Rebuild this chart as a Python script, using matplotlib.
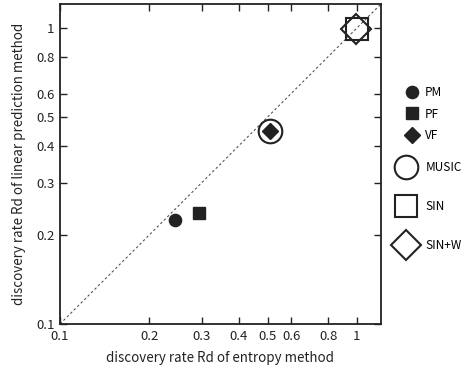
"""
Discovery rate comparison: entropy method vs linear prediction method.
"""

from matplotlib import pyplot as plt
from matplotlib.lines import Line2D
from matplotlib.ticker import FixedLocator, FixedFormatter, NullLocator

plt.rcParams['font.family'] = ['Noto Sans CJK JP', 'DejaVu Sans']

# values
methods     = ['PM', 'PF', 'VF', 'MUSIC', 'SIN', 'SIN+W']
rd_entropy  = [0.244, 0.293, 0.508, 0.508, 1.0, 0.99]
rd_linear   = [0.224, 0.237, 0.447, 0.447, 0.99, 0.99]

tick_vals   = [0.1, 0.2, 0.3, 0.4, 0.5, 0.6, 0.8, 1]
tick_labels = ['0.1', '0.2', '0.3', '0.4', '0.5', '0.6', '0.8', '1']
axis_lim    = [0.1, 1.205]

# marker, size, filled
styles = {
    'PM':    ('o', 8.8, True),
    'PF':    ('s', 8.6, True),
    'VF':    ('D', 8.0, True),
    'MUSIC': ('o', 17.0, False),
    'SIN':   ('s', 15.5, False),
    'SIN+W': ('D', 15.0, False),
}
dark = '#222222'


def handle(name):
    m, ms, filled = styles[name]
    return Line2D([], [], linestyle='none', marker=m, markersize=ms,
                  markerfacecolor=dark if filled else 'white',
                  markeredgecolor=dark, markeredgewidth=1.0 if filled else 1.5,
                  label=name)


fig = plt.figure(figsize=(4.71, 3.68), dpi=100)
ax = fig.add_axes([0.1274, 0.1196, 0.6815, 0.8696])

ax.set_xscale('log')
ax.set_yscale('log')
ax.plot(axis_lim, axis_lim, linestyle=(0, (2.2, 2.2)), color='#555555',
        linewidth=0.8, zorder=1)

# draw big hollow markers first so filled ones sit on top
order = [3, 4, 5, 0, 1, 2]
for i in order:
    name = methods[i]
    m, ms, filled = styles[name]
    ax.plot(rd_entropy[i], rd_linear[i], linestyle='none', marker=m,
            markersize=ms, markerfacecolor=dark if filled else 'none',
            markeredgecolor=dark, markeredgewidth=1.0 if filled else 1.5,
            zorder=3 if filled else 2)

ax.set_xlim(axis_lim)
ax.set_ylim(axis_lim)
for a in (ax.xaxis, ax.yaxis):
    a.set_major_locator(FixedLocator(tick_vals))
    a.set_major_formatter(FixedFormatter(tick_labels))
    a.set_minor_locator(NullLocator())
ax.tick_params(which='both', direction='in', length=5, width=1.0,
               top=True, right=True, labelsize=9.5, pad=4, colors='#222222')
for s in ax.spines.values():
    s.set_linewidth(1.3)
    s.set_color('#222222')

ax.set_xlabel('discovery rate Rd of entropy method', fontsize=9.6,
              labelpad=6, color='#222222')
ax.set_ylabel('discovery rate Rd of linear prediction method', fontsize=9.6,
              labelpad=7, color='#222222')

fig.legend(handles=[handle(n) for n in methods[:3]],
           loc='center left', bbox_to_anchor=(0.857, 0.69),
           frameon=False, fontsize=8.5, handlelength=1.4,
           labelspacing=0.7, handletextpad=0.4,
           borderpad=0, borderaxespad=0)
fig.legend(handles=[handle(n) for n in methods[3:]],
           loc='center left', bbox_to_anchor=(0.832, 0.438),
           frameon=False, fontsize=8.5, handlelength=2.35,
           labelspacing=2.2, handletextpad=0.5,
           borderpad=0, borderaxespad=0)

plt.savefig('out.png')
